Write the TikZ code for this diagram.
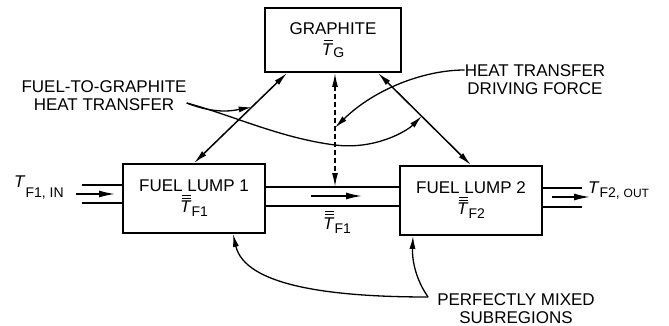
\documentclass[tikz,border=0pt]{standalone}
\usepackage{fontspec}
\setmainfont{Liberation Sans}
\usetikzlibrary{arrows.meta,positioning,calc}
\newcommand{\tvar}{\textit{T}}
\newcommand{\tbar}{\leavevmode\rlap{\kern2pt\raisebox{14pt}{\rule{9pt}{1pt}}}\textit{T}}
\newcommand{\tbarbar}{\leavevmode\rlap{\kern2pt\raisebox{14pt}{\rule{9pt}{1pt}}}\rlap{\kern2pt\raisebox{17pt}{\rule{9pt}{1pt}}}\textit{T}}
\newcommand{\tsub}[2][-4pt]{\raisebox{#1}{\fontsize{14}{14}\selectfont #2}}
\tikzset{
	box/.style={draw, line width=1.8pt, align=center, inner sep=0pt, font=\fontsize{17}{21}\selectfont},
	lump/.style={box, minimum width=142pt, minimum height=69pt},
	tag/.style={align=center, inner sep=0pt, font=\fontsize{17}{18}\selectfont},
	sym/.style={inner sep=0pt, font=\fontsize{17}{18}\selectfont},
	pipe/.style={line width=1.5pt},
	flow/.style={-{Latex[length=16pt, width=7pt]}, line width=1.5pt},
	duplex/.style={{Latex[length=14pt, width=6pt]}-{Latex[length=14pt, width=6pt]}, line width=1.5pt},
	lead/.style={-{Latex[length=13pt, width=6pt]}, line width=1.3pt}
}

\begin{document}
\begin{tikzpicture}[x=1pt, y=-1pt]
	\useasboundingbox (0,0) rectangle (669,326);
	\node[box, minimum width=136pt, minimum height=64pt] (graphite) at (333,40) {GRAPHITE\\\tbar\tsub[-2pt]{G}};
	\node[lump] (lump1) at (194,198.5) {FUEL LUMP 1\\\tbarbar\tsub{F1}};
	\node[lump] (lump2) at (471,200.5) {FUEL LUMP 2\\\tbarbar\tsub{F2}};
	\node[tag] (ftg) at (104,96) {FUEL-TO-GRAPHITE\\HEAT TRANSFER};
	\node[tag] (htdf) at (535,80) {HEAT TRANSFER\\DRIVING FORCE};
	\node[tag] (pms) at (516,309) {PERFECTLY MIXED\\SUBREGIONS};
	\node[sym, anchor=base west] (tin) at (14,187) {\tvar\tsub[-10pt]{F1, IN}};
	\node[sym, anchor=base west] (tout) at (588,193) {\tvar\tsub[-5pt]{F2, {\fontsize{12}{12}\selectfont OUT}}};
	\node[sym, anchor=base west] (tmid) at (323,229) {\tbarbar\tsub{F1}};
	% pipe lines
	\coordinate (pipetop) at (0,187);
	\coordinate (pipebot) at (0,206);
	\coordinate (intop) at (82,185);
	\coordinate (inbot) at (82,203);
	\coordinate (outtop) at (582,188);
	\coordinate (outbot) at (582,207);
	\draw[pipe] (lump1.east |- pipetop) -- (lump2.west |- pipetop);
	\draw[pipe] (lump1.east |- pipebot) -- (lump2.west |- pipebot);
	\draw[pipe] (intop) -- (lump1.west |- intop);
	\draw[pipe] (inbot) -- (lump1.west |- inbot);
	\draw[pipe] (lump2.east |- outtop) -- (outtop);
	\draw[pipe] (lump2.east |- outbot) -- (outbot);
	\coordinate (intail) at (76,194);
	\coordinate (inhead) at (115,194);
	\coordinate (midtail) at (311,196);
	\coordinate (midhead) at (362,196);
	\coordinate (outtail) at (552,197);
	\coordinate (outhead) at (590,197);
	\draw[flow] (intail) -- (inhead);
	\draw[flow] (midtail) -- (midhead);
	\draw[flow] (outtail) -- (outhead);
	% heat exchange with graphite
	\draw[duplex] ([xshift=23pt]graphite.south west) -- coordinate[pos=0.38] (lefttip) (lump1.north);
	\draw[duplex] ([xshift=-24pt]graphite.south east) -- coordinate[pos=0.47] (righttip) (lump2.north);
	\draw[duplex, dashed, dash pattern=on 5pt off 3pt] ([xshift=2pt]graphite.south) -- coordinate[pos=0.48] (dashtip) ([xshift=2pt]graphite.south |- pipetop);
	% label leaders
	\coordinate (ftgsag) at (335,145);
	\draw[lead] ([yshift=-7pt]ftg.east) .. controls +(30,12) and +(-17,3) .. (lefttip);
	\draw[lead] ([yshift=-7pt]ftg.east) .. controls +(45,12) and +(-55,-7) .. (ftgsag) .. controls +(40,5) and +(-15,15) .. (righttip);
	\draw[lead] ([yshift=10pt]htdf.west) .. controls +(-40,0) and +(40,-39) .. (dashtip);
	\draw[lead] ([xshift=-9pt, yshift=12pt]pms.west) .. controls +(-12,-17) and +(-1,25) .. ([xshift=-58pt]lump2.south);
	\draw[lead] ([xshift=-9pt, yshift=12pt]pms.west) .. controls +(-97,0) and +(12,52) .. ([xshift=39pt]lump1.south);
\end{tikzpicture}
\end{document}
